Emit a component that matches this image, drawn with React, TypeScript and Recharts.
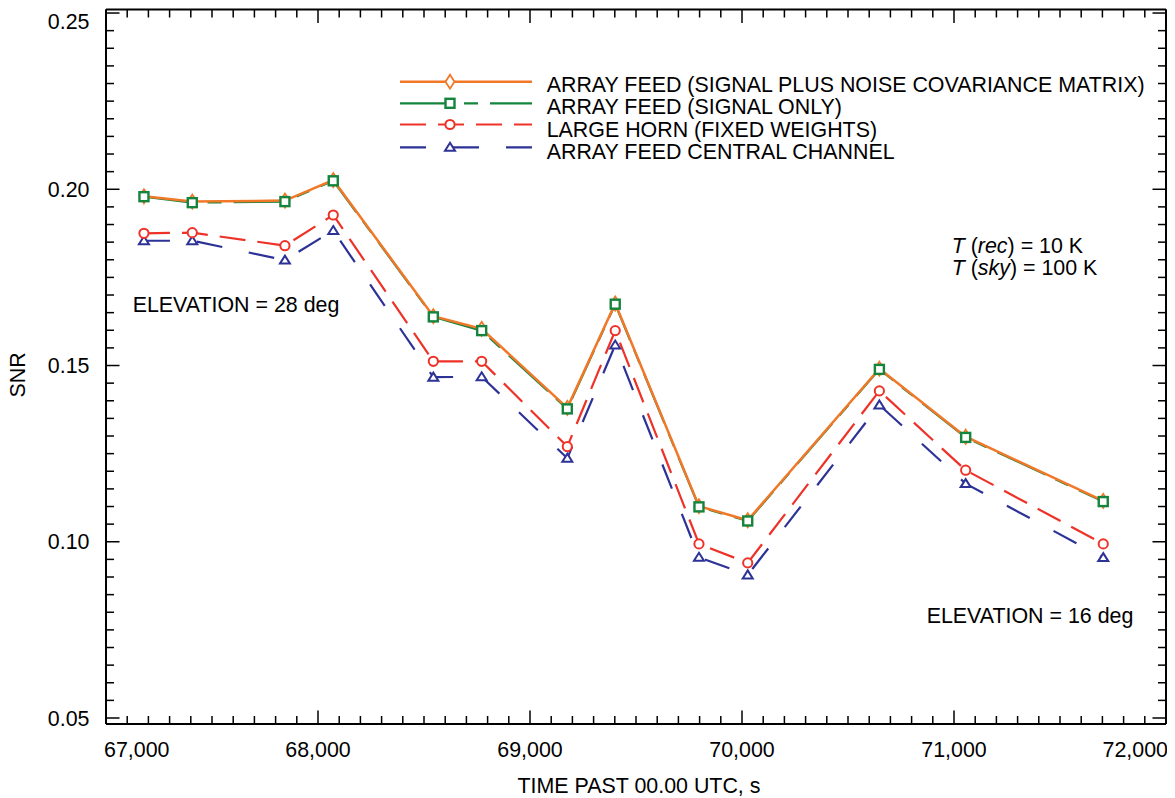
import React from 'react';
import { LineChart, Line, XAxis, YAxis, Customized } from 'recharts';

// ---- data ----
const times = [67179, 67407, 67844, 68072, 68544, 68772, 69176, 69402, 69797, 70027, 70648, 71055, 71704];
const arrayFeedCov = [0.1980, 0.1965, 0.1968, 0.2026, 0.1640, 0.1604, 0.1380, 0.1676, 0.1101, 0.1061, 0.1491, 0.1298, 0.1116];
const arrayFeedSignal = [0.1979, 0.1962, 0.1965, 0.2024, 0.1638, 0.1599, 0.1377, 0.1674, 0.1099, 0.1059, 0.1489, 0.1296, 0.1114];
const largeHorn = [0.1875, 0.1877, 0.1840, 0.1927, 0.1512, 0.1512, 0.1270, 0.1599, 0.0994, 0.0940, 0.1428, 0.1203, 0.0994];
const centralChannel = [0.1854, 0.1854, 0.1799, 0.1883, 0.1467, 0.1468, 0.1237, 0.1558, 0.0956, 0.0906, 0.1388, 0.1165, 0.0955];

const xMajorTicks = [67000, 68000, 69000, 70000, 71000, 72000];
const xTickLabels = ['67,000', '68,000', '69,000', '70,000', '71,000', '72,000'];
const yMajorTicks = [0.05, 0.1, 0.15, 0.2, 0.25];
const yTickLabels = ['0.05', '0.10', '0.15', '0.20', '0.25'];

const seriesLabels = [
  'ARRAY FEED (SIGNAL PLUS NOISE COVARIANCE MATRIX)',
  'ARRAY FEED (SIGNAL ONLY)',
  'LARGE HORN (FIXED WEIGHTS)',
  'ARRAY FEED CENTRAL CHANNEL',
];

const xAxisLabel = 'TIME PAST 00.00 UTC, s';
const yAxisLabel = 'SNR';

// ---- styling ----
const ORANGE = '#F07828';
const GREEN = '#15843C';
const RED = '#EE3228';
const BLUE = '#2D3296';
const FONT = '"Liberation Sans", Arial, Helvetica, sans-serif';
const FS = 21.4;

const GREEN_DASH = '53 11 14 12';
const RED_DASH = '26 12';
const BLUE_DASH = '26 27';

const data = times.map((t, i) => ({
  t,
  cov: arrayFeedCov[i],
  sig: arrayFeedSignal[i],
  horn: largeHorn[i],
  central: centralChannel[i],
}));

const xMinorTicks: number[] = [];
for (let v = 67000; v <= 72000; v += 100) xMinorTicks.push(v);
const yMinorTicks: number[] = [];
for (let k = 0; k <= 40; k++) yMinorTicks.push(Math.round((0.05 + k * 0.005) * 1000) / 1000);

const isMajorY = (v: number) => yMajorTicks.findIndex((m) => Math.abs(m - v) < 1e-6);

// ---- markers ----
const Diamond = ({ cx, cy, color }: any) => (
  <polygon
    points={`${cx},${cy - 7} ${cx + 4.5},${cy} ${cx},${cy + 7} ${cx - 4.5},${cy}`}
    fill="#fff"
    stroke={color}
    strokeWidth={1.8}
  />
);
const Square = ({ cx, cy, color }: any) => (
  <rect x={cx - 4.5} y={cy - 4.5} width={9} height={9} fill="#fff" stroke={color} strokeWidth={2.4} />
);
const Circle = ({ cx, cy, color }: any) => (
  <circle cx={cx} cy={cy} r={4.6} fill="#fff" stroke={color} strokeWidth={2} />
);
const Triangle = ({ cx, cy, color }: any) => (
  <polygon
    points={`${cx},${cy - 4.5} ${cx + 5},${cy + 3.5} ${cx - 5},${cy + 3.5}`}
    fill="#fff"
    stroke={color}
    strokeWidth={2}
  />
);

const dotFn = (Comp: any, color: string) => (p: any) => {
  if (p.cx == null || p.cy == null) return <g key={p.key} />;
  return <Comp key={p.key} cx={p.cx} cy={p.cy} color={color} />;
};

// ---- ticks ----
const BottomTick = (props: any) => {
  const { x, y, payload } = props;
  const v = payload.value;
  const idx = xMajorTicks.indexOf(v);
  const major = idx >= 0;
  let anchor: 'start' | 'middle' | 'end' = 'middle';
  let tx = x;
  if (idx === 0) {
    anchor = 'start';
    tx = x - 2;
  } else if (idx === xMajorTicks.length - 1) {
    anchor = 'end';
    tx = x + 2;
  }
  return (
    <g>
      <line x1={x} x2={x} y1={y} y2={y - (major ? 13.5 : 8)} stroke="#000" strokeWidth={1.5} />
      {major && (
        <text x={tx} y={y + 33} textAnchor={anchor} fontFamily={FONT} fontSize={FS} fill="#000">
          {xTickLabels[idx]}
        </text>
      )}
    </g>
  );
};

const TopTick = (props: any) => {
  const { x, y, payload } = props;
  const major = xMajorTicks.indexOf(payload.value) >= 0;
  return <line x1={x} x2={x} y1={y} y2={y + (major ? 13.5 : 8)} stroke="#000" strokeWidth={1.5} />;
};

const LeftTick = (props: any) => {
  const { x, y, payload } = props;
  const idx = isMajorY(payload.value);
  const major = idx >= 0;
  const shift = idx === yMajorTicks.length - 1 ? 8 : 0;
  return (
    <g>
      <line x1={x} x2={x + (major ? 13.5 : 8)} y1={y} y2={y} stroke="#000" strokeWidth={1.5} />
      {major && (
        <text
          x={x - 16.5}
          y={y + shift}
          dy="0.36em"
          textAnchor="end"
          fontFamily={FONT}
          fontSize={FS}
          fill="#000"
        >
          {yTickLabels[idx]}
        </text>
      )}
    </g>
  );
};

const RightTick = (props: any) => {
  const { x, y, payload } = props;
  const major = isMajorY(payload.value) >= 0;
  return <line x1={x} x2={x - (major ? 13.5 : 8)} y1={y} y2={y} stroke="#000" strokeWidth={1.5} />;
};

// ---- annotations & legend (svg coords = page coords) ----
const Annotations = () => {
  const legendRows = [
    { y: 81.7, ty: 91.5, color: ORANGE, dash: undefined, Marker: Diamond, w: 2.5 },
    { y: 103.3, ty: 114, color: GREEN, dash: GREEN_DASH, Marker: Square, w: 2.2 },
    { y: 124.5, ty: 136.5, color: RED, dash: RED_DASH, Marker: Circle, w: 2.2 },
    { y: 147.3, ty: 158.5, color: BLUE, dash: BLUE_DASH, Marker: Triangle, w: 2.2 },
  ];
  const textProps = { fontFamily: FONT, fontSize: FS, fill: '#000' };
  return (
    <g>
      {legendRows.map((r, i) => (
        <g key={i}>
          <line x1={400} x2={532} y1={r.y} y2={r.y} stroke={r.color} strokeWidth={r.w} strokeDasharray={r.dash} />
          <r.Marker cx={450} cy={r.y} color={r.color} />
          <text x={546.7} y={r.ty} {...textProps}>
            {seriesLabels[i]}
          </text>
        </g>
      ))}
      <text x={132.7} y={311.7} {...textProps}>ELEVATION = 28 deg</text>
      <text x={926.7} y={623.3} {...textProps}>ELEVATION = 16 deg</text>
      <text x={951.7} y={252.5} {...textProps}>
        <tspan fontStyle="italic">T</tspan>
        <tspan> (</tspan>
        <tspan fontStyle="italic">rec</tspan>
        <tspan>) = 10 K</tspan>
      </text>
      <text x={951.7} y={275} {...textProps}>
        <tspan fontStyle="italic">T</tspan>
        <tspan> (</tspan>
        <tspan fontStyle="italic">sky</tspan>
        <tspan>) = 100 K</tspan>
      </text>
      <text x={639} y={793} textAnchor="middle" {...textProps}>
        {xAxisLabel}
      </text>
      <text
        x={17.5}
        y={375}
        dy="0.36em"
        textAnchor="middle"
        transform="rotate(-90 17.5 375)"
        {...textProps}
      >
        {yAxisLabel}
      </text>
    </g>
  );
};

export default function App() {
  return (
    <div style={{ width: 1175, height: 798, marginLeft: -8, marginTop: -8 }}>
      <LineChart width={1175} height={798} data={data} margin={{ top: 8.5, right: 8, bottom: 24, left: 46 }}>
        <XAxis
          xAxisId="b"
          dataKey="t"
          type="number"
          domain={[67000, 72000]}
          ticks={xMinorTicks}
          interval={0}
          orientation="bottom"
          height={50}
          tickSize={0}
          tickMargin={0}
          tickLine={false}
          tick={<BottomTick />}
          axisLine={{ stroke: '#000', strokeWidth: 2 }}
          allowDataOverflow
        />
        <XAxis
          xAxisId="t"
          dataKey="t"
          type="number"
          domain={[67000, 72000]}
          ticks={xMinorTicks}
          interval={0}
          orientation="top"
          height={1}
          tickSize={0}
          tickMargin={0}
          tickLine={false}
          tick={<TopTick />}
          axisLine={{ stroke: '#000', strokeWidth: 2 }}
          allowDataOverflow
        />
        <YAxis
          yAxisId="l"
          type="number"
          domain={[0.0483, 0.251]}
          ticks={yMinorTicks}
          interval={0}
          orientation="left"
          width={60}
          tickSize={0}
          tickMargin={0}
          tickLine={false}
          tick={<LeftTick />}
          axisLine={{ stroke: '#000', strokeWidth: 2 }}
          allowDataOverflow
        />
        <YAxis
          yAxisId="r"
          type="number"
          domain={[0.0483, 0.251]}
          ticks={yMinorTicks}
          interval={0}
          orientation="right"
          width={1}
          tickSize={0}
          tickMargin={0}
          tickLine={false}
          tick={<RightTick />}
          axisLine={{ stroke: '#000', strokeWidth: 2 }}
          allowDataOverflow
        />
        <Line
          xAxisId="b"
          yAxisId="l"
          dataKey="central"
          stroke={BLUE}
          strokeWidth={2.2}
          strokeDasharray={BLUE_DASH}
          dot={dotFn(Triangle, BLUE)}
          isAnimationActive={false}
        />
        <Line
          xAxisId="b"
          yAxisId="l"
          dataKey="horn"
          stroke={RED}
          strokeWidth={2.2}
          strokeDasharray={RED_DASH}
          dot={dotFn(Circle, RED)}
          isAnimationActive={false}
        />
        <Line
          xAxisId="b"
          yAxisId="l"
          dataKey="sig"
          stroke={GREEN}
          strokeWidth={2.2}
          strokeDasharray={GREEN_DASH}
          dot={false}
          isAnimationActive={false}
        />
        <Line
          xAxisId="b"
          yAxisId="l"
          dataKey="cov"
          stroke={ORANGE}
          strokeWidth={2.5}
          dot={dotFn(Diamond, ORANGE)}
          isAnimationActive={false}
        />
        <Line
          xAxisId="b"
          yAxisId="l"
          dataKey="sig"
          stroke="none"
          legendType="none"
          dot={dotFn(Square, GREEN)}
          isAnimationActive={false}
        />
        <Customized component={Annotations} />
      </LineChart>
    </div>
  );
}
